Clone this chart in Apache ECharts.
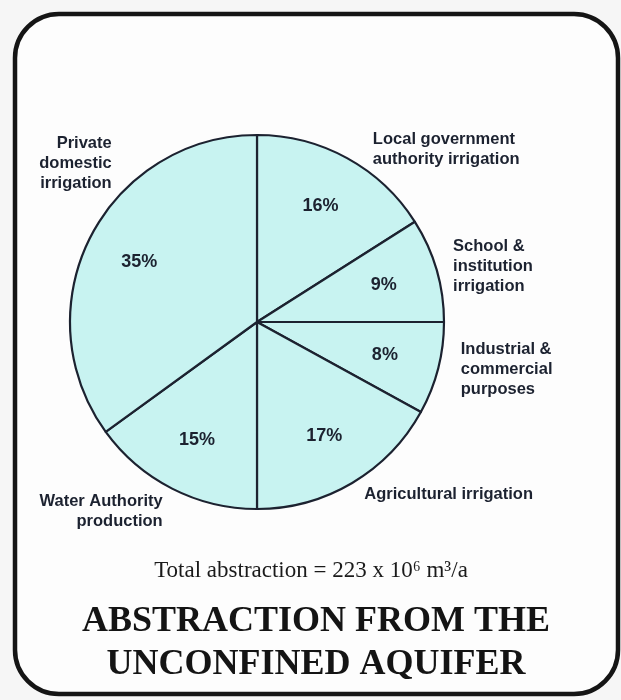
<!DOCTYPE html>
<html>
<head>
<meta charset="utf-8">
<title>Abstraction from the unconfined aquifer</title>
<script src="https://cdn.jsdelivr.net/npm/echarts@6/dist/echarts.min.js"></script>
<style>
  html, body { margin: 0; padding: 0; background: #f6f6f6; }
  #chart { width: 621px; height: 700px; }
</style>
</head>
<body>
<div id="chart"></div>
<script>
// Uses of groundwater drawn from the unconfined aquifer, share of total (%)
const categories = [
  'Local government\nauthority irrigation',
  'School &\ninstitution\nirrigation',
  'Industrial &\ncommercial\npurposes',
  'Agricultural irrigation',
  'Water Authority\nproduction',
  'Private\ndomestic\nirrigation'
];
const shares = [16, 9, 8, 17, 15, 35];

const totalText = 'Total abstraction = 223 x 10\u2076 m\u00B3/a';
const titleText = 'ABSTRACTION FROM THE\nUNCONFINED AQUIFER';

const data = categories.map((name, i) => ({ name: name, value: shares[i] }));

// Pie geometry (pixels)
const CX = 257, CY = 322, R = 187;
const ink = '#1c2230';
const fill = '#c8f3f1';

// Nudges applied to the computed outside-label positions
const nameNudge = [
  [7, 2], [-8, 0], [-2, -2], [-7, 1], [9, 12], [45, -68]
];

const chart = echarts.init(document.getElementById('chart'), null, { renderer: 'canvas' });

chart.setOption({
  backgroundColor: '#f6f6f6',
  animation: false,
  title: [
    {
      text: totalText,
      left: 311,
      top: 559,
      textAlign: 'center',
      padding: 0,
      textStyle: {
        fontFamily: '"Liberation Serif", "Times New Roman", serif',
        fontWeight: 'normal',
        fontSize: 23,
        color: '#1a1a1a'
      }
    },
    {
      text: titleText,
      left: 316,
      top: 600,
      textAlign: 'center',
      padding: 0,
      textStyle: {
        fontFamily: '"Liberation Serif", "Times New Roman", serif',
        fontWeight: 'bold',
        fontSize: 36,
        lineHeight: 43,
        color: '#141414'
      }
    }
  ],
  graphic: [
    {
      type: 'rect',
      z: -10,
      silent: true,
      shape: { x: 15, y: 14, width: 603, height: 680, r: 44 },
      style: { fill: '#fdfdfd', stroke: '#151515', lineWidth: 4.5 }
    }
  ],
  series: [
    {
      // slices with category names around the rim
      type: 'pie',
      center: [CX, CY],
      radius: R,
      startAngle: 90,
      clockwise: true,
      silent: true,
      data: data,
      itemStyle: { color: fill, borderColor: ink, borderWidth: 2.2 },
      label: {
        show: true,
        position: 'outside',
        formatter: '{b}',
        width: 200,
        overflow: 'none',
        fontFamily: '"Liberation Sans", Arial, Helvetica, sans-serif',
        fontWeight: 'bold',
        fontSize: 16.5,
        lineHeight: 20,
        color: ink
      },
      labelLine: { show: false, length: 12, length2: 8 },
      labelLayout: function (params) {
        const n = nameNudge[params.dataIndex] || [0, 0];
        return { dx: n[0], dy: n[1], moveOverlap: false };
      }
    },
    {
      // percentage figures inside each slice
      type: 'pie',
      center: [CX, CY],
      radius: [R * 0.38, R],
      startAngle: 90,
      clockwise: true,
      silent: true,
      z: 3,
      data: data,
      itemStyle: { color: 'rgba(0,0,0,0)', borderWidth: 0 },
      label: {
        show: true,
        position: 'inside',
        formatter: '{c}%',
        fontFamily: '"Liberation Sans", Arial, Helvetica, sans-serif',
        fontWeight: 'bold',
        fontSize: 18,
        color: ink
      },
      labelLine: { show: false }
    }
  ]
});
</script>
</body>
</html>
